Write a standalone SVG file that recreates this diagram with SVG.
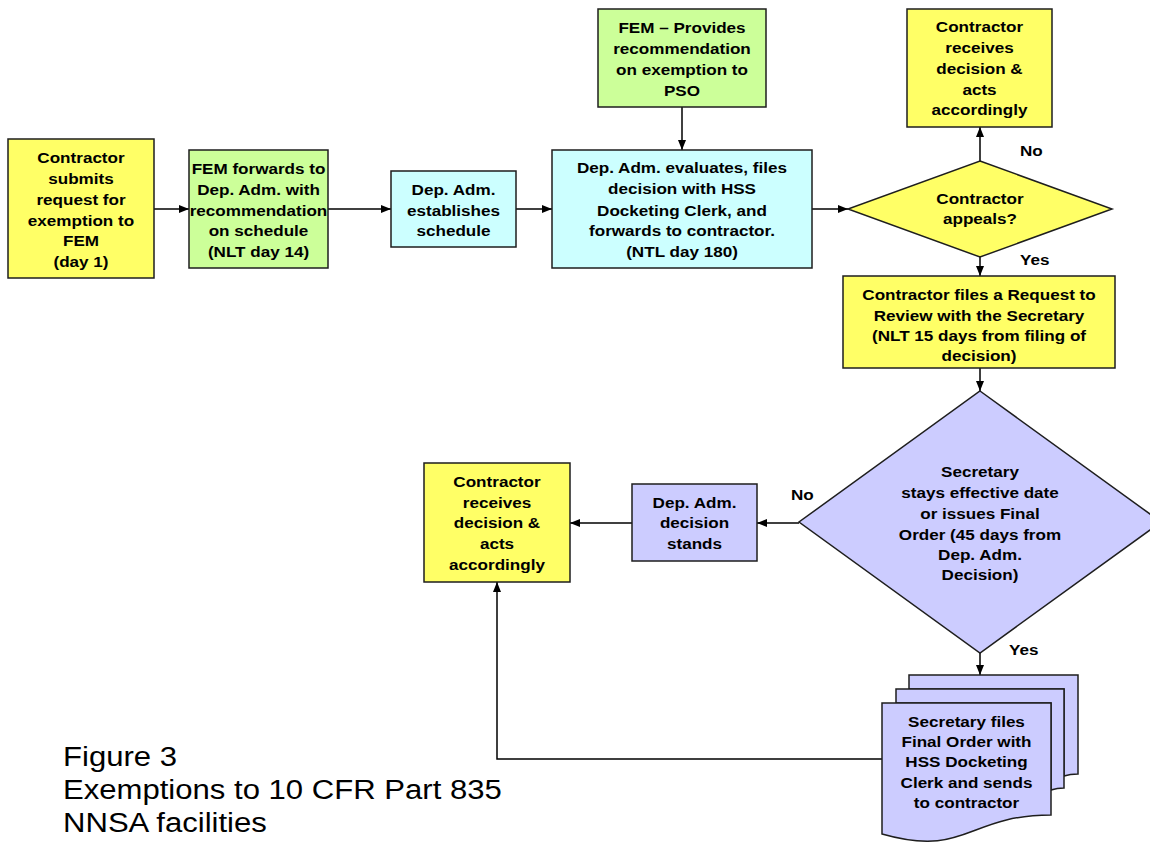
<svg xmlns="http://www.w3.org/2000/svg" width="1150" height="842" viewBox="0 0 1150 842">
<style>
.box{stroke:#1e1e1e;stroke-width:1.5}
.y{fill:#ffff66}.g{fill:#ccff99}.c{fill:#ccffff}.p{fill:#ccccff}
.t{font-family:"Liberation Sans",Arial,sans-serif;font-weight:bold;font-size:15.4px;fill:#000;text-anchor:middle}
.l{font-family:"Liberation Sans",Arial,sans-serif;font-weight:bold;font-size:15.4px;fill:#000}
.cap{font-family:"Liberation Sans",Arial,sans-serif;font-size:28px;fill:#000}
.conn{fill:none;stroke:#000;stroke-width:1.5}
</style>
<defs>
<marker id="ah" viewBox="0 0 10 8" refX="10" refY="4" markerWidth="10" markerHeight="8" markerUnits="userSpaceOnUse" orient="auto"><path d="M0,0 L10,4 L0,8 z" fill="#000"/></marker>
</defs>
<rect width="1150" height="842" fill="#fff"/>

<g id="connectors">
<line class="conn" x1="154" y1="209" x2="189" y2="209" marker-end="url(#ah)"/>
<line class="conn" x1="328" y1="209" x2="391" y2="209" marker-end="url(#ah)"/>
<line class="conn" x1="516" y1="209" x2="552" y2="209" marker-end="url(#ah)"/>
<line class="conn" x1="682" y1="107" x2="682" y2="150" marker-end="url(#ah)"/>
<line class="conn" x1="812" y1="209" x2="848" y2="209" marker-end="url(#ah)"/>
<line class="conn" x1="980" y1="161" x2="980" y2="127" marker-end="url(#ah)"/>
<line class="conn" x1="980" y1="257" x2="980" y2="276" marker-end="url(#ah)"/>
<line class="conn" x1="980" y1="368" x2="980" y2="391" marker-end="url(#ah)"/>
<line class="conn" x1="799" y1="523" x2="757" y2="523" marker-end="url(#ah)"/>
<line class="conn" x1="632" y1="523" x2="570" y2="523" marker-end="url(#ah)"/>
<line class="conn" x1="980" y1="653" x2="980" y2="675" marker-end="url(#ah)"/>
<path class="conn" d="M882,759 H497 V582" marker-end="url(#ah)"/>
<text class="l" transform="matrix(1.11,0,0,1,1020,0)" x="0" y="156">No</text>
<text class="l" transform="matrix(1.11,0,0,1,1020,0)" x="0" y="265">Yes</text>
<text class="l" transform="matrix(1.11,0,0,1,791,0)" x="0" y="500">No</text>
<text class="l" transform="matrix(1.11,0,0,1,1009,0)" x="0" y="655">Yes</text>
</g>

<g id="n1">
<rect class="box y" x="8" y="139" width="146" height="139"/>
<text class="t" transform="matrix(1.11,0,0,1,81,0)"><tspan x="0" y="163">Contractor</tspan><tspan x="0" y="184">submits</tspan><tspan x="0" y="205">request for</tspan><tspan x="0" y="226">exemption to</tspan><tspan x="0" y="246">FEM</tspan><tspan x="0" y="267">(day 1)</tspan></text>
</g>

<g id="n2">
<rect class="box g" x="189" y="150" width="139" height="118"/>
<text class="t" transform="matrix(1.11,0,0,1,258.5,0)"><tspan x="0" y="174">FEM forwards to</tspan><tspan x="0" y="195">Dep. Adm. with</tspan><tspan x="0" y="216">recommendation</tspan><tspan x="0" y="236">on schedule</tspan><tspan x="0" y="257">(NLT day 14)</tspan></text>
</g>

<g id="n3">
<rect class="box c" x="391" y="171" width="125" height="76"/>
<text class="t" transform="matrix(1.11,0,0,1,453.5,0)"><tspan x="0" y="195">Dep. Adm.</tspan><tspan x="0" y="216">establishes</tspan><tspan x="0" y="236">schedule</tspan></text>
</g>

<g id="n4">
<rect class="box c" x="552" y="150" width="260" height="118"/>
<text class="t" transform="matrix(1.11,0,0,1,682,0)"><tspan x="0" y="173">Dep. Adm. evaluates, files</tspan><tspan x="0" y="194">decision with HSS</tspan><tspan x="0" y="216">Docketing Clerk, and</tspan><tspan x="0" y="236">forwards to contractor.</tspan><tspan x="0" y="257">(NTL day 180)</tspan></text>
</g>

<g id="n5">
<rect class="box g" x="598" y="9" width="168" height="98"/>
<text class="t" transform="matrix(1.11,0,0,1,682,0)"><tspan x="0" y="33">FEM – Provides</tspan><tspan x="0" y="54">recommendation</tspan><tspan x="0" y="75">on exemption to</tspan><tspan x="0" y="96">PSO</tspan></text>
</g>

<g id="n6">
<rect class="box y" x="907" y="9" width="145" height="118"/>
<text class="t" transform="matrix(1.11,0,0,1,979.5,0)"><tspan x="0" y="32">Contractor</tspan><tspan x="0" y="53">receives</tspan><tspan x="0" y="74">decision &amp;</tspan><tspan x="0" y="95">acts</tspan><tspan x="0" y="115">accordingly</tspan></text>
</g>

<g id="n7">
<polygon class="box y" points="980,161 1112,209 980,257 848,209"/>
<text class="t" transform="matrix(1.11,0,0,1,980,0)"><tspan x="0" y="204">Contractor</tspan><tspan x="0" y="224">appeals?</tspan></text>
</g>

<g id="n8">
<rect class="box y" x="843" y="276" width="272" height="92"/>
<text class="t" transform="matrix(1.11,0,0,1,979,0)"><tspan x="0" y="300">Contractor files a Request to</tspan><tspan x="0" y="321">Review with the Secretary</tspan><tspan x="0" y="341">(NLT 15 days from filing of</tspan><tspan x="0" y="361">decision)</tspan></text>
</g>

<g id="n9">
<polygon class="box p" points="980,391 1161,522 980,653 799,522"/>
<text class="t" transform="matrix(1.11,0,0,1,980,0)"><tspan x="0" y="477">Secretary</tspan><tspan x="0" y="498">stays effective date</tspan><tspan x="0" y="519">or issues Final</tspan><tspan x="0" y="540">Order (45 days from</tspan><tspan x="0" y="560">Dep. Adm.</tspan><tspan x="0" y="580">Decision)</tspan></text>
</g>

<g id="n10">
<rect class="box p" x="632" y="484" width="125" height="77"/>
<text class="t" transform="matrix(1.11,0,0,1,694.5,0)"><tspan x="0" y="508">Dep. Adm.</tspan><tspan x="0" y="528">decision</tspan><tspan x="0" y="549">stands</tspan></text>
</g>

<g id="n11">
<rect class="box y" x="424" y="463" width="146" height="119"/>
<text class="t" transform="matrix(1.11,0,0,1,497,0)"><tspan x="0" y="487">Contractor</tspan><tspan x="0" y="508">receives</tspan><tspan x="0" y="528">decision &amp;</tspan><tspan x="0" y="549">acts</tspan><tspan x="0" y="570">accordingly</tspan></text>
</g>

<g id="n12">
<path class="box p" d="M909,675 H1078 V774 Q1070,774 1064,776 V689 H909 Z"/>
<path class="box p" d="M896,689 H1064 V788 Q1057,788 1051,790 V703 H896 Z"/>
<path class="box p" d="M882,703 H1051 V815 C966.5,815 966.5,858 882,834 Z"/>
<text class="t" transform="matrix(1.11,0,0,1,966.5,0)"><tspan x="0" y="727">Secretary files</tspan><tspan x="0" y="747">Final Order with</tspan><tspan x="0" y="767">HSS Docketing</tspan><tspan x="0" y="788">Clerk and sends</tspan><tspan x="0" y="808">to contractor</tspan></text>
</g>

<g id="caption">
<text class="cap" transform="matrix(1.11,0,0,1,63,0)"><tspan x="0" y="766">Figure 3</tspan><tspan x="0" y="799">Exemptions to 10 CFR Part 835</tspan><tspan x="0" y="832">NNSA facilities</tspan></text>
</g>
</svg>
